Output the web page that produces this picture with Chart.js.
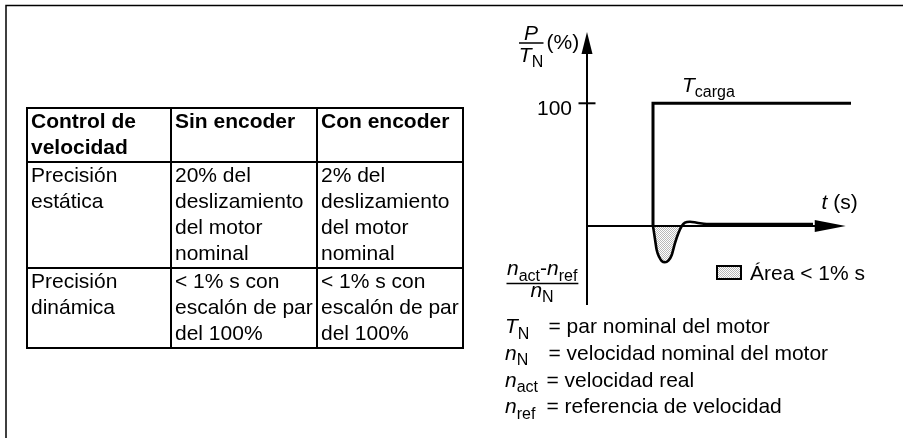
<!DOCTYPE html>
<html>
<head>
<meta charset="utf-8">
<script src="https://cdn.jsdelivr.net/npm/chart.js@4.4.1/dist/chart.umd.min.js"></script>
<style>
  html, body { margin:0; padding:0; background:#fff; width:903px; height:438px; overflow:hidden; }
  #wrap { position:relative; width:903px; height:438px; }
  #c { position:absolute; left:0; top:0; }
  #tbl { position:absolute; left:26px; top:106.5px; border-collapse:collapse; table-layout:fixed; width:436px;
         font-family:"Liberation Sans", Arial, sans-serif; font-size:21px; line-height:26px; color:#000; }
  #tbl td { border:2px solid #000; padding:0 1px 0 3px; vertical-align:top; white-space:nowrap; overflow:hidden; }
  #tbl td span { position:relative; top:-1px; }
  #tbl tr.h td { font-weight:bold; }
</style>
</head>
<body>
<div id="wrap">
  <canvas id="c" width="903" height="438"></canvas>
  <table id="tbl">
    <colgroup><col style="width:144px"><col style="width:146px"><col style="width:146px"></colgroup>
    <tbody id="tb"></tbody>
  </table>
</div>
<script>
// ---------- data ----------
const tableHeader = [["Control de", "velocidad"], ["Sin encoder"], ["Con encoder"]];
const tableRows = [
  [["Precisión", "estática"], ["20% del", "deslizamiento", "del motor", "nominal"], ["2% del", "deslizamiento", "del motor", "nominal"]],
  [["Precisión", "dinámica"], ["< 1% s con", "escalón de par", "del 100%"], ["< 1% s con", "escalón de par", "del 100%"]]
];
// load torque step (time units, % of T_N)
const loadTime   = [2.5, 2.5, 10];
const loadTorque = [0, 100, 100];
// speed deviation (n_act - n_ref)/n_N, same vertical units
const devTime  = [2.5, 2.58, 2.64, 2.74, 2.83, 2.95, 3.08, 3.21, 3.33, 3.46, 3.59, 3.71, 3.9, 4.16, 4.53, 8.56];
const devValue = [0, -11.4, -19.6, -25.5, -28.5, -29.6, -28.3, -23.6, -14.1, -5.9, 0, 2.7, 3.5, 2.7, 1.6, 1.6];
const yTickValues = [100];
const yTickLabels = ["100"];
const legendLabel = "Área < 1% s";
const definitions = [
  { sym: [["T","i"],["N","s"]],   text: "= par nominal del motor" },
  { sym: [["n","i"],["N","s"]],   text: "= velocidad nominal del motor" },
  { sym: [["n","i"],["act","s"]], text: "= velocidad real" },
  { sym: [["n","i"],["ref","s"]], text: "= referencia de velocidad" }
];

// ---------- table ----------
const tb = document.getElementById('tb');
function addRow(cells, cls) {
  const tr = document.createElement('tr');
  if (cls) tr.className = cls;
  cells.forEach(lines => {
    const td = document.createElement('td');
    td.innerHTML = '<span>' + lines.map(l => l.replace(/&/g,'&amp;').replace(/</g,'&lt;')).join('<br>') + '</span>';
    tr.appendChild(td);
  });
  tb.appendChild(tr);
}
addRow(tableHeader, 'h');
tableRows.forEach(r => addRow(r));

// ---------- chart ----------
const FONT = '"Liberation Sans", Arial, sans-serif';
function setFont(ctx, st) {
  if (st === 'i') ctx.font = 'italic 21px ' + FONT;
  else if (st === 's') ctx.font = '16px ' + FONT;
  else ctx.font = '21px ' + FONT;
}
function rich(ctx, segs, x, y, align) {
  let w = 0;
  segs.forEach(s => { setFont(ctx, s[1]); w += ctx.measureText(s[0]).width; });
  let cx = align === 'center' ? x - w / 2 : (align === 'right' ? x - w : x);
  ctx.textAlign = 'left';
  ctx.textBaseline = 'alphabetic';
  segs.forEach(s => {
    setFont(ctx, s[1]);
    ctx.fillText(s[0], cx, y + (s[1] === 's' ? 5.5 : 0));
    cx += ctx.measureText(s[0]).width;
  });
  return w;
}

const pc = document.createElement('canvas');
pc.width = 2; pc.height = 2;
const pctx = pc.getContext('2d');
pctx.fillStyle = '#fff'; pctx.fillRect(0, 0, 2, 2);
pctx.fillStyle = '#b8b8b8'; pctx.fillRect(0, 0, 1, 1); pctx.fillRect(1, 1, 1, 1);
const ctx0 = document.getElementById('c').getContext('2d');
const pattern = ctx0.createPattern(pc, 'repeat');

const decor = {
  id: 'decor',
  afterDatasetsDraw(chart) {
    const ctx = chart.ctx;
    const xs = chart.scales.x, ys = chart.scales.y;
    const x0 = xs.getPixelForValue(0), y0 = ys.getPixelForValue(0);
    const yTop = chart.chartArea.top, yBot = chart.chartArea.bottom;
    ctx.save();
    ctx.strokeStyle = '#000'; ctx.fillStyle = '#000';
    // frame
    ctx.lineWidth = 1.5;
    ctx.beginPath(); ctx.moveTo(6, 438); ctx.lineTo(6, 5.5); ctx.lineTo(903, 5.5); ctx.stroke();
    // y axis
    ctx.lineWidth = 2;
    ctx.beginPath(); ctx.moveTo(x0, yBot); ctx.lineTo(x0, yTop + 18); ctx.stroke();
    ctx.beginPath(); ctx.moveTo(x0, yTop); ctx.lineTo(x0 - 5.5, yTop + 22); ctx.lineTo(x0 + 5.5, yTop + 22); ctx.closePath(); ctx.fill();
    // x axis
    const xEnd = xs.getPixelForValue(9.8);
    ctx.beginPath(); ctx.moveTo(x0, y0); ctx.lineTo(xEnd - 26, y0); ctx.stroke();
    ctx.beginPath(); ctx.moveTo(xEnd, y0); ctx.lineTo(xEnd - 31, y0 - 6); ctx.lineTo(xEnd - 31, y0 + 6); ctx.closePath(); ctx.fill();
    // ticks
    yTickValues.forEach((v, i) => {
      const py = ys.getPixelForValue(v);
      ctx.beginPath(); ctx.moveTo(x0 - 8.5, py); ctx.lineTo(x0 + 8.5, py); ctx.stroke();
      rich(ctx, [[yTickLabels[i], 'n']], x0 - 15, py + 11.5, 'right');
    });
    // y axis title P / T_N (%)
    rich(ctx, [['P', 'i']], 531, 40, 'center');
    ctx.lineWidth = 1.5;
    ctx.beginPath(); ctx.moveTo(519, 43); ctx.lineTo(543.5, 43); ctx.stroke();
    rich(ctx, [['T', 'i'], ['N', 's']], 531, 61.5, 'center');
    rich(ctx, [['(%)', 'n']], 546.5, 49, 'left');
    // lower title
    const nw = rich(ctx, [['n', 'i'], ['act', 's'], ['-', 'n'], ['n', 'i'], ['ref', 's']], 507, 275, 'left');
    ctx.beginPath(); ctx.moveTo(506.5, 283.5); ctx.lineTo(507 + nw + 1, 283.5); ctx.stroke();
    rich(ctx, [['n', 'i'], ['N', 's']], 542, 296.5, 'center');
    // T_carga label
    const stepPx = xs.getPixelForValue(loadTime[1]);
    rich(ctx, [['T', 'i'], ['carga', 's']], stepPx + 29, ys.getPixelForValue(100) - 11.5, 'left');
    // t (s)
    rich(ctx, [['t', 'i'], [' (s)', 'n']], 821.5, 209, 'left');
    // legend
    ctx.fillStyle = pattern;
    ctx.fillRect(717, 266, 24, 13);
    ctx.fillStyle = '#000';
    ctx.lineWidth = 2;
    ctx.strokeRect(717, 266, 24, 13);
    rich(ctx, [[legendLabel, 'n']], 750, 279.5, 'left');
    // definitions
    definitions.forEach((d, i) => {
      const by = 333.3 + i * 26.67;
      rich(ctx, d.sym, 505, by, 'left');
      rich(ctx, [[d.text, 'n']], i < 2 ? 548.5 : 546.5, by, 'left');
    });
    ctx.restore();
  }
};

new Chart(ctx0, {
  type: 'line',
  data: {
    datasets: [
      {
        label: 'Tcarga',
        data: loadTime.map((t, i) => ({ x: t, y: loadTorque[i] })),
        borderColor: '#000', borderWidth: 3, pointRadius: 0, fill: false, tension: 0,
        borderJoinStyle: 'miter', order: 1
      },
      {
        label: legendLabel,
        data: devTime.map((t, i) => ({ x: t, y: devValue[i] })),
        borderColor: '#000', borderWidth: 2.6, pointRadius: 0,
        cubicInterpolationMode: 'monotone',
        fill: { target: 'origin', above: 'rgba(0,0,0,0)', below: pattern },
        order: 2
      }
    ]
  },
  options: {
    responsive: false, animation: false, devicePixelRatio: 1,
    layout: { padding: { left: 587, right: 52, top: 32, bottom: 133 } },
    scales: {
      x: { type: 'linear', min: 0, max: 10, display: false },
      y: { type: 'linear', min: -64.4, max: 158.1, display: false }
    },
    plugins: { legend: { display: false }, tooltip: { enabled: false } }
  },
  plugins: [decor]
});
</script>
</body>
</html>
